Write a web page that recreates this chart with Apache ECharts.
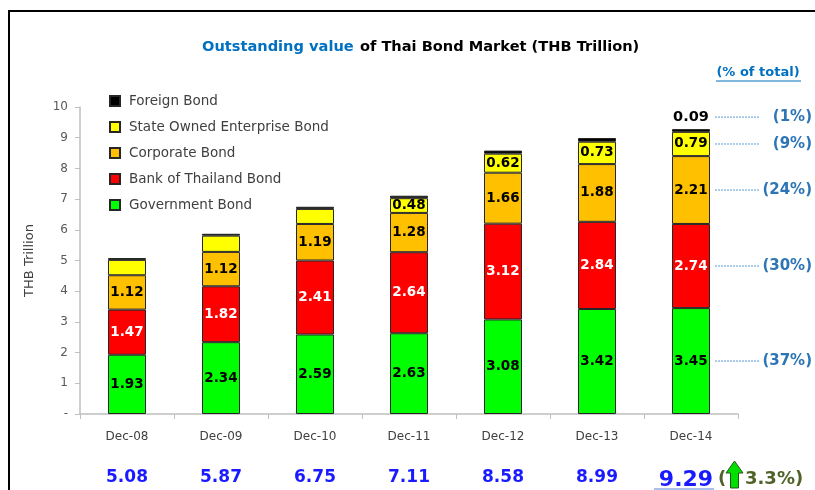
<!DOCTYPE html>
<html>
<head>
<meta charset="utf-8">
<script src="https://cdn.jsdelivr.net/npm/echarts@6/dist/echarts.min.js"></script>
<style>
html,body{margin:0;padding:0;background:#fff}
#main{width:815px;height:490px}
</style>
</head>
<body>
<div id="main"></div>
<script>
var years = ['Dec-08','Dec-09','Dec-10','Dec-11','Dec-12','Dec-13','Dec-14'];
var govBond = [1.93, 2.34, 2.59, 2.63, 3.08, 3.42, 3.45];
var botBond = [1.47, 1.82, 2.41, 2.64, 3.12, 2.84, 2.74];
var corpBond = [1.12, 1.12, 1.19, 1.28, 1.66, 1.88, 2.21];
var soeBond = [0.50, 0.53, 0.49, 0.48, 0.62, 0.73, 0.79];
var foreignBond = [0.06, 0.06, 0.07, 0.08, 0.10, 0.12, 0.09];
var soeLabelShown = [false, false, false, true, true, true, true];
var foreignLabelShown = [false, false, false, false, false, false, true];
var totals = ['5.08','5.87','6.75','7.11','8.58','8.99','9.29'];
// share of total for the latest year: gov, bot, corp, soe, foreign
var shareLabels = ['(37%)','(30%)','(24%)','(9%)','(1%)'];
var growthText = '3.3%)';

var FONT = 'DejaVu Sans';
var dom = document.getElementById('main');
var myChart = echarts.init(dom);

function labelData(values, shown) {
    return values.map(function (v, i) {
        return shown ? { value: v, label: { show: shown[i] } } : v;
    });
}

function barSeries(name, values, color, labelColor, shown, pos) {
    return {
        name: name,
        type: 'bar',
        stack: 'total',
        barWidth: 38,
        data: labelData(values, shown),
        itemStyle: { color: color, borderColor: '#262626', borderWidth: 1 },
        label: {
            show: !shown,
            position: pos || 'inside',
            color: labelColor,
            fontFamily: FONT,
            fontWeight: 'bold',
            fontSize: 13.5,
            formatter: function (p) { return p.value.toFixed(2); }
        }
    };
}

var option = {
    animation: false,
    textStyle: { fontFamily: FONT },
    title: {
        left: 197,
        top: 33,
        text: '{a|Outstanding value} {b|of Thai Bond Market (THB Trillion)}',
        textStyle: {
            rich: {
                a: { color: '#0070c0', fontSize: 14.6, fontWeight: 'bold', fontFamily: FONT },
                b: { color: '#000', fontSize: 14.6, fontWeight: 'bold', fontFamily: FONT }
            }
        }
    },
    legend: {
        orient: 'vertical',
        left: 104,
        top: 89,
        icon: 'rect',
        itemWidth: 10,
        itemHeight: 10,
        itemGap: 12,
        data: ['Foreign Bond','State Owned Enterprise Bond','Corporate Bond','Bank of Thailand Bond','Government Bond'],
        textStyle: { color: '#404040', fontSize: 13.5, fontFamily: FONT, padding: [0, 0, 0, 4] }
    },
    grid: { left: 80, right: 77, top: 107, bottom: 76, outerBoundsMode: 'none' },
    xAxis: [
        {
            type: 'category',
            data: years,
            axisLine: { lineStyle: { color: '#bfbfbf', width: 1.5 } },
            axisTick: { show: true, length: 5, lineStyle: { color: '#bfbfbf' } },
            axisLabel: { color: '#404040', fontSize: 12, margin: 17 }
        },
        {
            type: 'category',
            data: years,
            position: 'bottom',
            axisLine: { show: false },
            axisTick: { show: false },
            axisLabel: {
                margin: 55,
                formatter: function (v, i) {
                    return i === totals.length - 1 ? '{big|' + totals[i] + '}' : '{t|' + totals[i] + '}';
                },
                rich: {
                    t: { color: '#1a1aff', fontSize: 17, fontWeight: 'bold', fontFamily: FONT },
                    big: { color: '#1a1aff', fontSize: 22, fontWeight: 'bold', fontFamily: FONT, padding: [0, 10, 4, 0] }
                }
            }
        }
    ],
    yAxis: {
        type: 'value',
        min: 0,
        max: 10,
        interval: 1,
        name: 'THB Trillion',
        nameLocation: 'middle',
        nameGap: 44,
        nameTextStyle: { color: '#404040', fontSize: 13 },
        splitLine: { show: false },
        axisLine: { show: true, lineStyle: { color: '#bfbfbf', width: 1.5 } },
        axisTick: { show: true, length: 5, lineStyle: { color: '#bfbfbf' } },
        axisLabel: {
            color: '#595959', fontSize: 12, margin: 12,
            formatter: function (v) { return v === 0 ? '-' : v; }
        }
    },
    series: [
        barSeries('Government Bond', govBond, '#00ff00', '#000'),
        barSeries('Bank of Thailand Bond', botBond, '#ff0000', '#fff'),
        barSeries('Corporate Bond', corpBond, '#ffc000', '#000'),
        barSeries('State Owned Enterprise Bond', soeBond, '#ffff00', '#000', soeLabelShown),
        barSeries('Foreign Bond', foreignBond, '#000000', '#000', foreignLabelShown, 'top')
    ]
};
option.series[4].label.fontSize = 14.5;
option.series[4].label.distance = 4;

myChart.setOption(option, true);

// annotations beside the latest bar, placed through the chart's own scales
var last = years.length - 1;
var stackSeries = [govBond, botBond, corpBond, soeBond, foreignBond];
var barX = myChart.convertToPixel({ xAxisIndex: 0 }, last);
var graphics = [];
var base = 0;
stackSeries.forEach(function (arr, k) {
    var v = arr[last];
    var y = k < 4 ? myChart.convertToPixel({ yAxisIndex: 0 }, base + v / 2)
                  : myChart.convertToPixel({ yAxisIndex: 0 }, base + v) - 12;
    base += v;
    graphics.push({
        type: 'line',
        shape: { x1: barX + 24, y1: y, x2: 760, y2: y },
        style: { stroke: '#5b9bd5', lineWidth: 1, lineDash: [2, 1] }
    });
    graphics.push({
        type: 'text', x: 812, y: y,
        style: { text: shareLabels[k], fill: '#2e75b6', font: 'bold 15px ' + FONT, textAlign: 'right', textVerticalAlign: 'middle' }
    });
});

// frame
graphics.push({ type: 'rect', shape: { x: 8, y: 10, width: 815, height: 2 }, style: { fill: '#000' } });
graphics.push({ type: 'rect', shape: { x: 8, y: 10, width: 2, height: 490 }, style: { fill: '#000' } });

// (% of total) header
graphics.push({
    type: 'text', x: 758, y: 73,
    style: { text: '(% of total)', fill: '#0070c0', font: 'bold 13px ' + FONT, textAlign: 'center', textVerticalAlign: 'middle' }
});
graphics.push({ type: 'line', shape: { x1: 716, y1: 81, x2: 801, y2: 81 }, style: { stroke: '#0070c0', lineWidth: 1 } });

// growth note after the latest total
graphics.push({ type: 'line', shape: { x1: 654, y1: 489, x2: 714, y2: 489 }, style: { stroke: '#8fa8e8', lineWidth: 1.5 } });
graphics.push({
    type: 'text', x: 718, y: 479,
    style: { text: '(', fill: '#4f6228', font: 'bold 18px ' + FONT, textVerticalAlign: 'middle' }
});
graphics.push({
    type: 'polygon',
    shape: { points: [[734.5, 461], [743, 473], [738.5, 473], [738.5, 488], [730.5, 488], [730.5, 473], [726, 473]] },
    style: { fill: '#00e000', stroke: '#2f4f1f', lineWidth: 1 }
});
graphics.push({
    type: 'text', x: 745, y: 479,
    style: { text: growthText, fill: '#4f6228', font: 'bold 18px ' + FONT, textVerticalAlign: 'middle' }
});

myChart.setOption({ graphic: graphics });

window.addEventListener('resize', function () {
    myChart.resize();
});
</script>
</body>
</html>
